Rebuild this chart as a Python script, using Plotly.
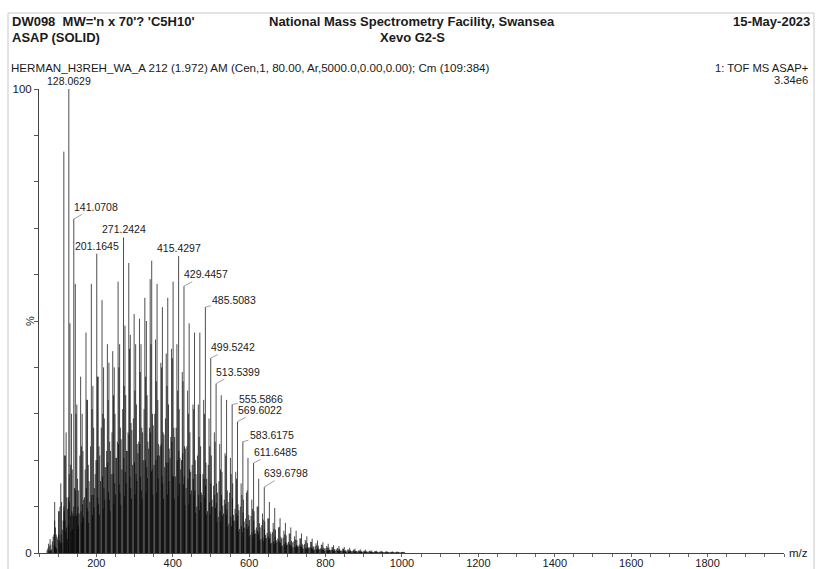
import plotly.graph_objects as go

# ---------------------------------------------------------------- data
# nominal m/z of each CH2-repeat cluster (series with m/z mod 14 = 5)
cluster_mz = [75, 89, 103, 117, 131, 145, 159, 173, 187, 201, 215, 229, 243, 257,
              271, 285, 299, 313, 327, 341, 355, 369, 383, 397, 411, 425, 439, 453,
              467, 481, 495, 509, 523, 537, 551, 565, 579, 593, 607, 621, 635, 649,
              663, 677, 691, 705, 719, 733, 747, 761, 775, 789, 803, 817, 831, 845,
              859, 873, 887, 901, 915, 929, 943, 957, 971, 985, 999]

# relative intensity (%) of each ion series inside the clusters
int_b = [2.0, 4.0, 9.0, 21.0, 49.5, 58.0, 38.0, 47.5, 58.0, None, 54.5, 45.0, 43.5, 58.5,
         None, 62.5, 51.5, 50.5, 55.0, 59.0, 46.0, 41.0, 43.0, 44.0, 45.0, 39.0, 35.0, 32.0,
         32.0, 33.0, 29.0, 26.0, 23.5, 21.5, 20.5, 17.5, 15.0, 13.0, 11.5, 10.0, 8.5, 7.5,
         6.5, 5.5, 4.8, 4.2, 3.6, 3.2, 2.8, 2.4, 2.1, 1.8, 1.5, 1.3, 1.1, 0.95,
         0.8, 0.7, 0.6, 0.5, 0.45, 0.4, 0.35, 0.3, 0.28, 0.25, 0.22]
int_a = [3.0, 5.5, 15.0, 26.0, 30.0, 32.0, 30.0, 33.0, 36.0, 38.0, 40.0, 41.0, 40.0, 45.0,
         49.0, 47.0, 45.0, 45.0, 50.0, 63.0, 58.0, 53.0, 55.0, 58.5, None, None, 49.5, 47.5,
         47.5, None, None, None, 34.0, 33.0, None, None, None, 20.5, None, 16.0, None, 11.0,
         9.7, 7.5, 6.5, 5.5, 4.8, 4.2, 3.6, 3.1, 2.7, 2.3, 2.0, 1.7, 1.5, 1.3,
         1.1, 0.95, 0.8, 0.7, 0.6, 0.5, 0.45, 0.4, 0.35, 0.3, 0.25]
int_c = [1.5, 7.0, 10.0, 21.0, 19.0, 30.0, 23.0, 33.0, 31.0, 38.0, 30.0, 33.0, 34.0, 40.0,
         36.0, 44.0, 35.0, 39.0, 38.0, 45.0, 37.0, 40.0, 36.0, 42.0, 35.0, 37.0, 30.0, 31.0,
         25.0, 30.0, 23.0, 24.0, 18.0, 21.0, 17.0, 16.0, 12.5, 13.5, 9.5, 10.0, 7.2, 7.4,
         5.2, 5.6, 4.0, 4.2, 2.9, 3.1, 2.3, 2.4, 1.6, 1.7, 1.2, 1.25, 0.85, 0.9,
         0.62, 0.68, 0.45, 0.5, 0.36, 0.4, 0.27, 0.3, 0.21, 0.25, 0.18]
int_d = [1.0, 3.5, 9.0, 10.0, 17.0, 14.0, 21.0, 18.0, 23.0, 20.0, 27.0, 22.0, 26.0, 24.0,
         31.0, 26.0, 29.0, 24.0, 31.0, 27.0, 30.0, 23.0, 29.0, 25.0, 27.0, 20.0, 23.0, 19.0,
         21.0, 17.0, 19.0, 14.5, 15.5, 11.5, 13.0, 9.5, 10.0, 7.4, 8.0, 5.5, 6.0, 4.3,
         4.5, 3.1, 3.3, 2.4, 2.5, 1.8, 1.9, 1.3, 1.45, 1.0, 1.05, 0.72, 0.78, 0.54,
         0.57, 0.4, 0.44, 0.31, 0.33, 0.24, 0.26, 0.19, 0.2, 0.15, 0.16]
int_e = [1.8, 4.0, 11.0, 12.0, 18.0, 16.0, 22.0, 19.0, 27.0, 23.0, 29.0, 24.0, 30.0, 27.0,
         34.0, 28.0, 32.0, 27.0, 34.0, 30.0, 33.0, 26.0, 32.0, 27.0, 31.0, 23.0, 26.0, 20.0,
         23.0, 19.5, 21.0, 15.0, 17.5, 13.5, 15.0, 10.5, 11.5, 8.2, 9.0, 6.4, 6.8, 4.6,
         5.0, 3.5, 3.8, 2.6, 2.8, 2.0, 2.1, 1.5, 1.6, 1.15, 1.2, 0.85, 0.9, 0.62,
         0.66, 0.46, 0.5, 0.35, 0.38, 0.27, 0.29, 0.21, 0.22, 0.17, 0.18]
int_f = [0.8, 3.5, 5.0, 9.5, 8.5, 13.5, 11.5, 15.5, 14.0, 21.0, 18.5, 22.0, 20.5, 24.5,
         22.0, 26.5, 23.5, 26.0, 24.0, 27.5, 23.5, 25.5, 22.5, 25.0, 20.5, 22.5, 17.5, 17.0,
         13.0, 16.0, 11.5, 13.0, 10.2, 11.0, 8.2, 9.2, 6.8, 7.1, 5.0, 5.5, 3.9, 4.1,
         2.8, 3.1, 2.1, 2.3, 1.6, 1.7, 1.2, 1.3, 0.92, 0.98, 0.7, 0.74, 0.53, 0.57,
         0.4, 0.43, 0.31, 0.33, 0.24, 0.25, 0.18, 0.2, 0.15, 0.16, 0.12]
int_g = [0.6, 2.5, 3.0, 7.0, 6.0, 10.0, 8.5, 12.0, 11.0, 17.0, 15.5, 18.5, 17.0, 20.5,
         18.0, 22.0, 19.0, 21.5, 20.0, 22.5, 19.0, 21.0, 18.5, 20.5, 16.5, 18.0, 14.0, 13.5,
         10.0, 12.5, 9.0, 10.0, 7.8, 8.5, 6.3, 7.0, 5.2, 5.5, 3.9, 4.2, 3.0, 3.2,
         2.2, 2.4, 1.6, 1.8, 1.25, 1.35, 0.95, 1.0, 0.72, 0.76, 0.55, 0.58, 0.42, 0.45,
         0.32, 0.34, 0.25, 0.26, 0.19, 0.2, 0.15, 0.16, 0.12, 0.13, 0.1]
# even-mass (isotope / odd-electron) ions
int_h = [0.5, 1.8, 2.6, 7.0, 8.0, 13.5, 9.0, 14.0, 12.5, 20.0, 16.5, 19.5, 17.0, 23.5,
         20.5, 25.5, 19.5, 23.5, 20.0, 26.0, 20.0, 23.5, 19.5, 24.0, 20.0, 21.5, 16.0, 16.0,
         12.5, 16.0, 11.0, 12.5, 9.0, 10.5, 7.8, 8.5, 5.8, 6.3, 4.4, 4.8, 3.3, 3.6,
         2.5, 2.7, 1.9, 2.0, 1.4, 1.55, 1.05, 1.15, 0.8, 0.86, 0.6, 0.64, 0.45, 0.48,
         0.33, 0.36, 0.25, 0.27, 0.19, 0.2, 0.14, 0.15, 0.11, 0.12, 0.09]
int_i = [0.6, 1.3, 4.0, 5.5, 9.0, 8.5, 10.5, 9.0, 12.5, 10.5, 14.0, 11.5, 15.0, 13.0,
         17.5, 14.0, 17.0, 13.5, 18.5, 18.0, 21.0, 15.0, 19.5, 16.5, 22.0, 16.5, 18.0, 13.5,
         17.0, 14.5, 15.0, 10.8, 12.5, 9.4, 11.8, 8.0, 8.7, 5.8, 7.0, 4.5, 5.1, 3.2,
         3.5, 2.2, 2.4, 1.6, 1.75, 1.2, 1.3, 0.9, 0.97, 0.66, 0.72, 0.49, 0.54, 0.37,
         0.4, 0.28, 0.3, 0.21, 0.22, 0.15, 0.17, 0.12, 0.12, 0.09, 0.1]
int_j = [0.4, 1.4, 2.1, 4.6, 4.7, 8.0, 6.5, 9.7, 8.2, 12.0, 9.6, 13.2, 10.5, 14.8,
         12.2, 16.5, 12.6, 16.5, 13.0, 17.5, 13.0, 16.5, 12.6, 16.5, 12.2, 14.8, 10.5, 12.5,
         9.2, 12.0, 8.3, 9.7, 6.8, 8.2, 5.8, 6.8, 4.5, 5.2, 3.5, 4.0, 2.6, 3.0,
         2.0, 2.3, 1.5, 1.7, 1.13, 1.3, 0.87, 1.0, 0.66, 0.75, 0.5, 0.57, 0.37, 0.42,
         0.28, 0.32, 0.21, 0.24, 0.16, 0.18, 0.12, 0.14, 0.1, 0.11, 0.08]
int_k = [0.4, 0.9, 2.3, 3.0, 5.2, 5.2, 7.5, 6.5, 9.8, 8.3, 11.5, 9.1, 12.6, 10.4,
         15.0, 11.7, 15.5, 11.7, 16.1, 12.6, 16.1, 11.7, 15.5, 11.7, 15.0, 10.4, 12.6, 8.7,
         10.9, 8.3, 9.9, 6.7, 8.0, 5.7, 6.9, 4.7, 5.4, 3.6, 4.1, 2.7, 3.1, 2.0,
         2.3, 1.5, 1.7, 1.13, 1.3, 0.87, 1.0, 0.67, 0.77, 0.5, 0.58, 0.38, 0.44, 0.29,
         0.32, 0.21, 0.24, 0.16, 0.18, 0.12, 0.14, 0.1, 0.11, 0.08, 0.09]

# series offsets (Da) from the cluster m/z
series = [(int_k, 7), (int_j, 3), (int_i, 5), (int_h, 1),
          (int_g, -4), (int_d, -2), (int_f, 8), (int_e, 6), (int_c, 2), (int_a, 4), (int_b, 0)]

# aromatic ions in the low-mass region
extra_mz = [91, 102, 115, 116, 127, 129, 139, 142, 152, 153, 165]
extra_int = [11.0, 4.0, 86.5, 9.0, 12.0, 11.0, 8.0, 8.0, 10.0, 6.0, 8.0]

# annotated peaks
lab_mz = [128.0629, 141.0708, 201.1645, 271.2424, 415.4297, 429.4457, 485.5083,
          499.5242, 513.5399, 555.5866, 569.6022, 583.6175, 611.6485, 639.6798]
lab_int = [100.0, 72.0, 64.5, 68.0, 64.0, 57.5, 53.0, 42.0, 36.5, 32.0, 28.3, 24.0, 19.4, 14.2]

x_ticks = [200, 400, 600, 800, 1000, 1200, 1400, 1600, 1800]

# ---------------------------------------------------------------- sticks
xs, ys = [], []


def add_stick(m, h):
    xs.extend([m, m, None])
    ys.extend([0, h, None])


for vals, off in series:
    for base, h in zip(cluster_mz, vals):
        if h is not None:
            add_stick(base + off, h)
for m, h in zip(extra_mz, extra_int):
    add_stick(m, h)
for m, h in zip(lab_mz, lab_int):
    add_stick(m, h)

fig = go.Figure()
fig.add_trace(go.Scatter(x=xs, y=ys, mode="lines",
                         line=dict(color="#000000", width=0.7),
                         hoverinfo="skip", showlegend=False))
# empty trace that carries the tick-mark axis
fig.add_trace(go.Scatter(x=[], y=[], xaxis="x2", showlegend=False, hoverinfo="skip"))

# ---------------------------------------------------------------- layout helpers
W, H = 816, 569
L, R, T, B = 39, 784, 89, 553
FONT = "Liberation Sans, Arial, Helvetica, sans-serif"


def px(xp):
    return (xp - L) / (R - L)


def py(yp):
    return (B - yp) / (B - T)


ann = []


def text(xp, yp, s, anchor="left", size=11, bold=False, angle=0):
    ann.append(dict(x=px(xp), y=py(yp), xref="paper", yref="paper",
                    text=f"<b>{s}</b>" if bold else s, showarrow=False,
                    xanchor=anchor, yanchor="middle", textangle=angle,
                    font=dict(family=FONT, size=size, color="#1a1a1a")))


# header block
text(10, 21, "DW098  MW='n x 70'? 'C5H10'", bold=True, size=13)
text(10, 37, "ASAP (SOLID)", bold=True, size=13)
text(412, 21, "National Mass Spectrometry Facility, Swansea", "center", bold=True, size=13)
text(412, 37, "Xevo G2-S", "center", bold=True, size=13)
text(812, 21, "15-May-2023", "right", bold=True, size=13)
text(9, 68, "HERMAN_H3REH_WA_A 212 (1.972) AM (Cen,1, 80.00, Ar,5000.0,0.00,0.00); Cm (109:384)", size=11.6)
text(810, 68, "1: TOF MS ASAP+", "right", size=11.2)
text(810, 80, "3.34e6", "right", size=11.2)
text(30, 321, "%", "center", size=11, angle=-90)
text(787, 553, "m/z", "left", size=11.5)

# peak labels: (dx, dy) pixel offset of the label centre, None = centred above the stick
lab_offset = [None, (22, -12), None, None, None, (22, -12), (29, -7),
              (22, -11), (22, -12), (29, -6), (22, -12), (29, -7), (22, -11), (22, -14)]
for m, h, off in zip(lab_mz, lab_int, lab_offset):
    base = dict(x=m, y=h, xref="x", yref="y", text=f"{m:.4f}",
                font=dict(family=FONT, size=10.5, color="#1a1a1a"))
    if off is None:
        base.update(showarrow=False, yanchor="bottom", xanchor="center", yshift=0)
    else:
        base.update(showarrow=True, arrowhead=0, arrowwidth=0.8, arrowcolor="#888",
                    ax=off[0], ay=off[1], axref="pixel", ayref="pixel",
                    xanchor="center", yanchor="middle", standoff=0)
    ann.append(base)

fig.update_layout(
    width=W, height=H,
    margin=dict(l=L, r=W - R, t=T, b=H - B, pad=0, autoexpand=False),
    paper_bgcolor="white", plot_bgcolor="white",
    font=dict(family=FONT, size=11, color="#1a1a1a"),
    annotations=ann,
    shapes=[dict(type="rect", xref="paper", yref="paper",
                 x0=px(8), x1=px(814), y0=py(590), y1=py(13),
                 line=dict(color="#c8c8c8", width=1), fillcolor="rgba(0,0,0,0)")],
    # labelled axis (no tick marks so the labels sit close to the line)
    xaxis=dict(range=[50, 2000], tickvals=x_ticks, ticks="", showline=True,
               linecolor="#444", linewidth=1, showgrid=False, zeroline=False,
               tickfont=dict(size=11), automargin=False),
    # tick marks every 50 along the m/z axis
    xaxis2=dict(range=[50, 2000], overlaying="x", matches="x", anchor="y", side="bottom",
                tickmode="linear", tick0=0, dtick=50, ticks="outside", ticklen=3,
                tickcolor="#666", showticklabels=False, showline=False,
                showgrid=False, zeroline=False, automargin=False),
    yaxis=dict(range=[0, 100], tickvals=list(range(0, 101, 10)),
               ticktext=["0"] + [""] * 9 + ["100"], ticks="outside", ticklen=4,
               tickcolor="#555", showline=True, linecolor="#444", linewidth=1,
               showgrid=False, zeroline=False, tickfont=dict(size=11.5), automargin=False),
)

fig.write_html("out.html")
